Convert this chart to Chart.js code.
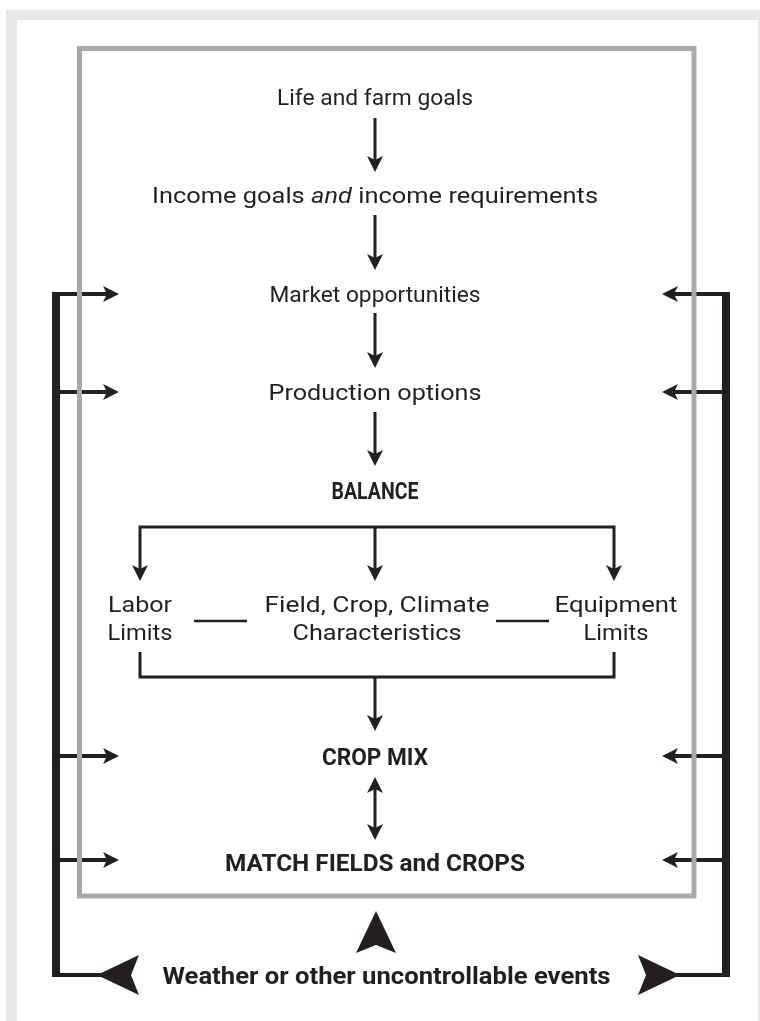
<!DOCTYPE html>
<html>
<head>
<meta charset="utf-8">
<title>Crop mix planning</title>
<script src="https://cdn.jsdelivr.net/npm/chart.js@4.4.1/dist/chart.umd.min.js"></script>
<style>
  html, body { margin: 0; padding: 0; background: #fff; }
  canvas { display: block; }
</style>
</head>
<body>
<canvas id="chart" width="760" height="1021"></canvas>
<script>
// diagram content, in page units (x 0..760 left to right, y 0..1021 top to bottom)
const steps = ['Life and farm goals', 'Income goals _and_ income requirements', 'Market opportunities',
               'Production options', 'BALANCE', 'CROP MIX', 'MATCH FIELDS and CROPS'];
const stepY = [97, 195, 294, 392, 490, 756, 862];
const boldSteps = ['BALANCE', 'CROP MIX', 'MATCH FIELDS and CROPS'];
const centerX = 375;

const limitTitles = ['Labor', 'Field, Crop, Climate', 'Equipment'];
const limitSubtitles = ['Limits', 'Characteristics', 'Limits'];
const limitX = [140, 377, 616];
const limitRowY = [604, 632];

const feedbackY = [294, 392, 756, 860];   // rows that get the side arrows
const eventsLabel = 'Weather or other uncontrollable events';
const eventsY = 975;

// connectors
const stepArrows = [[118, 172], [215, 270], [313, 368], [412, 466]];
const branchX = [140, 375, 614];
const splitY = 527, splitEnd = 581;
const joinTop = 652, joinY = 677, mixEnd = 731;
const swapArrow = [777, 840];
const dashY = 621;
const dashes = [[194, 247], [496, 549]];
const sideX = [56, 726], sideTip = [119, 662];
const eventTip = [97, 680], upTip = [376, 911];
const frame = { left: 79.5, right: 694, top: 48.5, bottom: 896 };

// printed width of each label in the original (its face is a condensed gothic)
const labelWidths = {
    'Life and farm goals': 196, 'Income goals and income requirements': 446,
    'Market opportunities': 211, 'Production options': 213,
    'BALANCE': 87, 'CROP MIX': 106, 'MATCH FIELDS and CROPS': 300,
    'Labor': 64, 'Limits': 65, 'Field, Crop, Climate': 225, 'Characteristics': 169, 'Equipment': 123,
    'Weather or other uncontrollable events': 448
};

const ink = '#231f20';
const frameGrey = '#a7a9ac';
const pageGrey = '#e6e7e8';
const regularFont = 'Roboto, "Liberation Sans", sans-serif';

const datasets = [];
const heads = [];

function path(pts, width, color) {
    datasets.push({
        data: pts.map(p => ({ x: p[0], y: p[1] })),
        showLine: true,
        borderColor: color || ink,
        borderWidth: width,
        borderCapStyle: 'butt',
        borderJoinStyle: 'miter',
        pointRadius: 0,
        pointHoverRadius: 0,
        fill: false
    });
}

// grey frame
let mid = (frame.left + frame.right) / 2;
path([[mid, frame.top], [frame.right, frame.top], [frame.right, frame.bottom],
      [frame.left, frame.bottom], [frame.left, frame.top], [mid, frame.top]], 5, frameGrey);

// main chain
stepArrows.forEach(a => {
    path([[centerX, a[0]], [centerX, a[1] - 8]], 3);
    heads.push({ x: centerX, y: a[1], dir: 'down', big: false });
});

// split into the three limits
path([[branchX[0], splitEnd - 8], [branchX[0], splitY], [branchX[2], splitY], [branchX[2], splitEnd - 8]], 3);
path([[branchX[1], splitY], [branchX[1], splitEnd - 8]], 3);
branchX.forEach(x => heads.push({ x: x, y: splitEnd, dir: 'down', big: false }));

dashes.forEach(d => path([[d[0], dashY], [d[1], dashY]], 2.5));

// join back to crop mix
path([[branchX[0], joinTop], [branchX[0], joinY], [branchX[2], joinY], [branchX[2], joinTop]], 3);
path([[centerX, joinY], [centerX, mixEnd - 8]], 3);
heads.push({ x: centerX, y: mixEnd, dir: 'down', big: false });

path([[centerX, swapArrow[0] + 8], [centerX, swapArrow[1] - 8]], 3);
heads.push({ x: centerX, y: swapArrow[0], dir: 'up', big: false });
heads.push({ x: centerX, y: swapArrow[1], dir: 'down', big: false });

// side feedback bars
path([[sideX[0], feedbackY[0] - 2], [sideX[0], eventsY + 2]], 8);
path([[sideX[1], feedbackY[0] - 2], [sideX[1], eventsY + 2]], 8);
feedbackY.forEach(y => {
    path([[sideX[0], y], [sideTip[0] - 8, y]], 4);
    heads.push({ x: sideTip[0], y: y, dir: 'right', big: false });
    path([[sideX[1], y], [sideTip[1] + 8, y]], 4);
    heads.push({ x: sideTip[1], y: y, dir: 'left', big: false });
});
path([[sideX[0], eventsY], [eventTip[0] + 10, eventsY]], 4);
path([[sideX[1], eventsY], [eventTip[1] - 10, eventsY]], 4);
heads.push({ x: eventTip[0], y: eventsY, dir: 'left', big: true });
heads.push({ x: eventTip[1], y: eventsY, dir: 'right', big: true });
heads.push({ x: upTip[0], y: upTip[1], dir: 'up', big: true });

const dirs = { up: [0, -1], down: [0, 1], left: [-1, 0], right: [1, 0] };

const pagePlugin = {
    id: 'page',
    beforeDraw(chart) {
        const { ctx, scales: { x, y } } = chart;
        ctx.save();
        ctx.fillStyle = pageGrey;
        ctx.fillRect(x.getPixelForValue(6), y.getPixelForValue(10),
                     x.getPixelForValue(760) - x.getPixelForValue(6), y.getPixelForValue(1021) - y.getPixelForValue(10));
        ctx.fillStyle = '#fff';
        ctx.fillRect(x.getPixelForValue(17), y.getPixelForValue(20),
                     x.getPixelForValue(758) - x.getPixelForValue(17), y.getPixelForValue(1021) - y.getPixelForValue(20));
        ctx.restore();
    }
};

const arrowPlugin = {
    id: 'arrowheads',
    afterDatasetsDraw(chart) {
        const { ctx, scales: { x, y } } = chart;
        ctx.save();
        ctx.fillStyle = ink;
        heads.forEach(h => {
            const len = h.big ? 42 : 16, half = h.big ? 20 : 8, notch = h.big ? 8 : 4;
            const d = dirs[h.dir];
            const px = x.getPixelForValue(h.x), py = y.getPixelForValue(h.y);
            const bx = px - d[0] * len, by = py - d[1] * len;
            ctx.beginPath();
            ctx.moveTo(px, py);
            ctx.lineTo(bx - d[1] * half, by + d[0] * half);
            ctx.lineTo(px - d[0] * (len - notch), py - d[1] * (len - notch));
            ctx.lineTo(bx + d[1] * half, by - d[0] * half);
            ctx.closePath();
            ctx.fill();
        });
        ctx.restore();
    }
};

function fontOf(bold, italic, size) {
    return (italic ? 'italic ' : '') + (bold ? 'bold ' : '') + size + 'px ' + regularFont;
}

// draws a centred label squeezed/stretched to its printed width; _word_ is set in italics
function drawLabel(ctx, text, px, py, bold, size) {
    const parts = text.split('_');
    let total = 0;
    parts.forEach((p, i) => {
        ctx.font = fontOf(bold, i % 2 === 1, size);
        total += ctx.measureText(p).width;
    });
    const target = labelWidths[parts.join('')];
    const sx = target ? target / total : 1;
    ctx.save();
    ctx.translate(px, py);
    ctx.scale(sx, 1);
    let cursor = -total / 2;
    parts.forEach((p, i) => {
        ctx.font = fontOf(bold, i % 2 === 1, size);
        ctx.fillText(p, cursor, 0);
        cursor += ctx.measureText(p).width;
    });
    ctx.restore();
}

const textPlugin = {
    id: 'labels',
    afterDatasetsDraw(chart) {
        const { ctx, scales: { x, y } } = chart;
        const regSize = 22, boldSize = 24;
        ctx.save();
        ctx.fillStyle = ink;
        ctx.textAlign = 'left';
        ctx.textBaseline = 'alphabetic';
        const capReg = regSize * 0.36, capBold = boldSize * 0.36;

        steps.forEach((s, i) => {
            const bold = boldSteps.includes(s);
            drawLabel(ctx, s, x.getPixelForValue(centerX), y.getPixelForValue(stepY[i]) + (bold ? capBold : capReg),
                      bold, bold ? boldSize : regSize);
        });
        limitTitles.forEach((t, i) => {
            drawLabel(ctx, t, x.getPixelForValue(limitX[i]), y.getPixelForValue(limitRowY[0]) + capReg, false, regSize);
            drawLabel(ctx, limitSubtitles[i], x.getPixelForValue(limitX[i]), y.getPixelForValue(limitRowY[1]) + capReg, false, regSize);
        });
        drawLabel(ctx, eventsLabel, x.getPixelForValue(386.5), y.getPixelForValue(eventsY) + capBold, true, boldSize);
        ctx.restore();
    }
};

new Chart(document.getElementById('chart').getContext('2d'), {
    type: 'scatter',
    data: { datasets: datasets },
    options: {
        responsive: false,
        animation: false,
        events: [],
        layout: { padding: 0 },
        plugins: { legend: { display: false }, tooltip: { enabled: false } },
        scales: {
            x: { type: 'linear', min: 0, max: 760, display: false },
            y: { type: 'linear', min: 0, max: 1021, reverse: true, display: false }
        }
    },
    plugins: [pagePlugin, arrowPlugin, textPlugin]
});
</script>
</body>
</html>
